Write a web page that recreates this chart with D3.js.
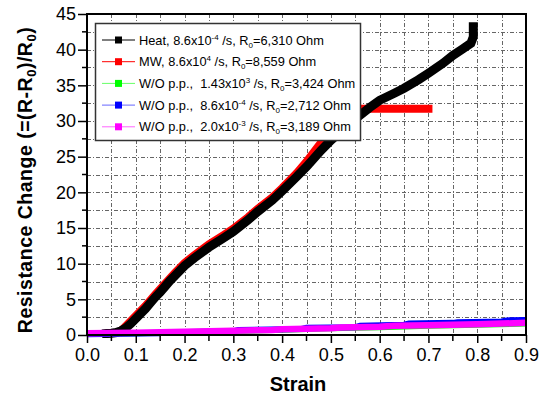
<!DOCTYPE html>
<html>
<head>
<meta charset="utf-8">
<script src="https://cdn.jsdelivr.net/npm/d3@7/dist/d3.min.js"></script>
<style>
  body { margin: 0; background: #fff; }
  svg { display: block; font-family: Arial, "Liberation Sans", sans-serif; }
</style>
</head>
<body>
<svg id="chart" width="544" height="397"></svg>
<script>
// ---- data ----
const xTicks = [0.0, 0.1, 0.2, 0.3, 0.4, 0.5, 0.6, 0.7, 0.8, 0.9];
const yTicks = [0, 5, 10, 15, 20, 25, 30, 35, 40, 45];

const heatStrain = [0.04, 0.05, 0.06, 0.07, 0.08, 0.09, 0.10, 0.11, 0.12, 0.13, 0.14, 0.15, 0.16, 0.17, 0.18, 0.19, 0.20, 0.22, 0.25, 0.28, 0.30, 0.33, 0.35, 0.38, 0.40, 0.43, 0.45, 0.48, 0.50, 0.53, 0.55, 0.58, 0.60, 0.63, 0.65, 0.68, 0.70, 0.73, 0.75, 0.77, 0.787, 0.792, 0.792];
const heatValue  = [0.2, 0.25, 0.35, 0.6, 1.0, 1.6, 2.3, 3.0, 3.7, 4.5, 5.3, 6.0, 6.8, 7.6, 8.3, 9.0, 9.7, 10.8, 12.3, 13.6, 14.5, 16.1, 17.3, 18.9, 20.2, 22.2, 23.6, 25.9, 27.3, 29.1, 30.3, 31.9, 32.9, 33.9, 34.6, 35.8, 36.7, 38.1, 39.2, 40.1, 40.9, 41.8, 43.2];

const mwStrain = [0.07, 0.08, 0.09, 0.10, 0.12, 0.14, 0.16, 0.18, 0.20, 0.22, 0.25, 0.28, 0.30, 0.33, 0.35, 0.38, 0.40, 0.43, 0.45, 0.48, 0.50, 0.52, 0.535, 0.60, 0.65, 0.70];
const mwValue  = [0.6, 1.3, 2.0, 2.7, 4.1, 5.7, 7.2, 8.7, 10.1, 11.2, 12.7, 14.0, 14.9, 16.5, 17.7, 19.3, 20.6, 22.7, 24.3, 27.0, 28.6, 30.5, 31.7, 31.7, 31.7, 31.7];

const wo143Strain = [0.0, 0.1, 0.2, 0.3, 0.4, 0.5, 0.6, 0.7, 0.8, 0.9];
const wo143Value  = [0.15, 0.25, 0.4, 0.55, 0.75, 0.95, 1.1, 1.3, 1.45, 1.6];

const wo86Strain = [0.0, 0.15, 0.16, 0.30, 0.31, 0.44, 0.45, 0.55, 0.56, 0.65, 0.66, 0.75, 0.76, 0.85, 0.86, 0.9];
const wo86Value  = [0.1, 0.25, 0.4, 0.5, 0.7, 0.85, 1.0, 1.1, 1.3, 1.45, 1.6, 1.7, 1.8, 1.9, 2.05, 2.1];

const wo20Strain = [0.0, 0.1, 0.2, 0.3, 0.38, 0.4, 0.5, 0.52, 0.6, 0.63, 0.7, 0.75, 0.8, 0.9];
const wo20Value  = [0.25, 0.3, 0.45, 0.6, 0.7, 0.8, 0.95, 1.05, 1.15, 1.3, 1.35, 1.45, 1.5, 1.7];

const legendLabels = [
  [["Heat, 8.6x10", 0], ["-4", 1], [" /s, R", 0], ["0", -1], ["=6,310 Ohm", 0]],
  [["MW, 8.6x10", 0], ["4", 1], [" /s, R", 0], ["0", -1], ["=8,559 Ohm", 0]],
  [["W/O p.p.,  1.43x10", 0], ["3", 1], [" /s, R", 0], ["0", -1], ["=3,424 Ohm", 0]],
  [["W/O p.p.,  8.6x10", 0], ["-4", 1], [" /s, R", 0], ["0", -1], ["=2,712 Ohm", 0]],
  [["W/O p.p.,  2.0x10", 0], ["-3", 1], [" /s, R", 0], ["0", -1], ["=3,189 Ohm", 0]]
];

// ---- layout ----
const svg = d3.select("#chart");
const L = 87, R = 526, T = 14, B = 335;
const x = d3.scaleLinear().domain([0, 0.9]).range([L, R]);
const y = d3.scaleLinear().domain([0, 45]).range([B, T]);

// grid
const grid = svg.append("g").attr("stroke", "#666").attr("stroke-width", 1).attr("stroke-dasharray", "4,2,1,2");
d3.range(1, 18).forEach(i => {
  const v = i * 0.05;
  grid.append("line").attr("x1", Math.round(x(v)) + 0.5).attr("x2", Math.round(x(v)) + 0.5).attr("y1", T).attr("y2", B);
});
d3.range(1, 18).forEach(i => {
  const v = i * 2.5;
  grid.append("line").attr("y1", Math.round(y(v)) + 0.5).attr("y2", Math.round(y(v)) + 0.5).attr("x1", L).attr("x2", R);
});

// clip
svg.append("clipPath").attr("id", "clip").append("rect").attr("x", L).attr("y", T).attr("width", R - L).attr("height", B - T + 3);

const line = d3.line().x(d => x(d[0])).y(d => y(d[1]));
const plot = svg.append("g").attr("clip-path", "url(#clip)");
function series(xs, ys, color, w) {
  plot.append("path").datum(xs.map((v, i) => [v, ys[i]]))
    .attr("d", line).attr("fill", "none").attr("stroke", color)
    .attr("stroke-width", w).attr("stroke-linejoin", "miter").attr("stroke-linecap", "square");
}
series(mwStrain, mwValue, "#ff0000", 8);
series(heatStrain, heatValue, "#000000", 9);
series(wo143Strain, wo143Value, "#00ff00", 6);
series(wo86Strain, wo86Value, "#0000ff", 6);
series(wo20Strain, wo20Value, "#ff00ff", 6.5);

// axes
const xAxis = d3.axisBottom(x).tickValues(xTicks).tickFormat(d3.format(".1f")).tickSize(8).tickPadding(5);
const gx = svg.append("g").attr("transform", `translate(0,${B})`).call(xAxis);
const yAxis = d3.axisLeft(y).tickValues(yTicks).tickFormat(d3.format("d")).tickSize(9).tickPadding(2);
const gy = svg.append("g").attr("transform", `translate(${L},0)`).call(yAxis);
[gx, gy].forEach(g => {
  g.select(".domain").remove();
  g.selectAll(".tick line").attr("stroke", "#000").attr("stroke-width", 1.5);
  g.selectAll(".tick text").attr("font-size", 18).attr("fill", "#000").attr("font-family", "Arial, 'Liberation Sans', sans-serif");
});
// minor ticks
d3.range(0, 9).forEach(i => {
  const v = i * 0.1 + 0.05;
  svg.append("line").attr("x1", x(v)).attr("x2", x(v)).attr("y1", B).attr("y2", B + 6).attr("stroke", "#000").attr("stroke-width", 1.5);
});
d3.range(0, 9).forEach(i => {
  const v = i * 5 + 2.5;
  svg.append("line").attr("y1", y(v)).attr("y2", y(v)).attr("x1", L).attr("x2", L - 5).attr("stroke", "#000").attr("stroke-width", 1.5);
});

// frame
svg.append("rect").attr("x", L).attr("y", T).attr("width", R - L).attr("height", B - T)
  .attr("fill", "none").attr("stroke", "#000").attr("stroke-width", 2);

// legend
const lg = svg.append("g");
lg.append("rect").attr("x", 95.5).attr("y", 23.5).attr("width", 265).attr("height", 117)
  .attr("fill", "#fff").attr("stroke", "#333").attr("stroke-width", 1.5);
const lineCols = ["#000000", "#ff0000", "#66ff66", "#6666ff", "#ff66ff"];
const markCols = ["#000000", "#ff0000", "#00ff00", "#0000ff", "#ff00ff"];
legendLabels.forEach((parts, i) => {
  const cy = 40 + i * 21.7;
  lg.append("line").attr("x1", 102).attr("x2", 135).attr("y1", cy).attr("y2", cy).attr("stroke", lineCols[i]).attr("stroke-width", 1);
  lg.append("rect").attr("x", 115).attr("y", cy - 3.5).attr("width", 7).attr("height", 7).attr("fill", markCols[i]);
  const t = lg.append("text").attr("x", 139).attr("y", cy + 4.5).attr("font-size", 12.8).attr("fill", "#000").attr("xml:space", "preserve");
  parts.forEach(([s, k], j) => {
    const prev = j > 0 ? parts[j - 1][1] : 0;
    let dy = 0;
    if (k === 1) dy = -5; else if (k === -1) dy = 3;
    if (prev === 1) dy += 5; else if (prev === -1) dy -= 3;
    const ts = t.append("tspan").attr("dy", dy).text(s);
    if (k !== 0) ts.attr("font-size", 8);
  });
});

// axis titles
svg.append("text").attr("x", 298).attr("y", 391).attr("text-anchor", "middle")
  .attr("font-size", 20).attr("font-weight", "bold").text("Strain");
const yt = svg.append("text").attr("transform", "translate(32,180) rotate(-90)").attr("text-anchor", "middle")
  .attr("font-size", 19.5).attr("font-weight", "bold").attr("letter-spacing", 0.5);
yt.append("tspan").text("Resistance Change (=(R-R");
yt.append("tspan").attr("font-size", 13).attr("dy", 4).text("0");
yt.append("tspan").attr("dy", -4).text(")/R");
yt.append("tspan").attr("font-size", 13).attr("dy", 4).text("0");
yt.append("tspan").attr("dy", -4).text(")");
</script>
</body>
</html>
